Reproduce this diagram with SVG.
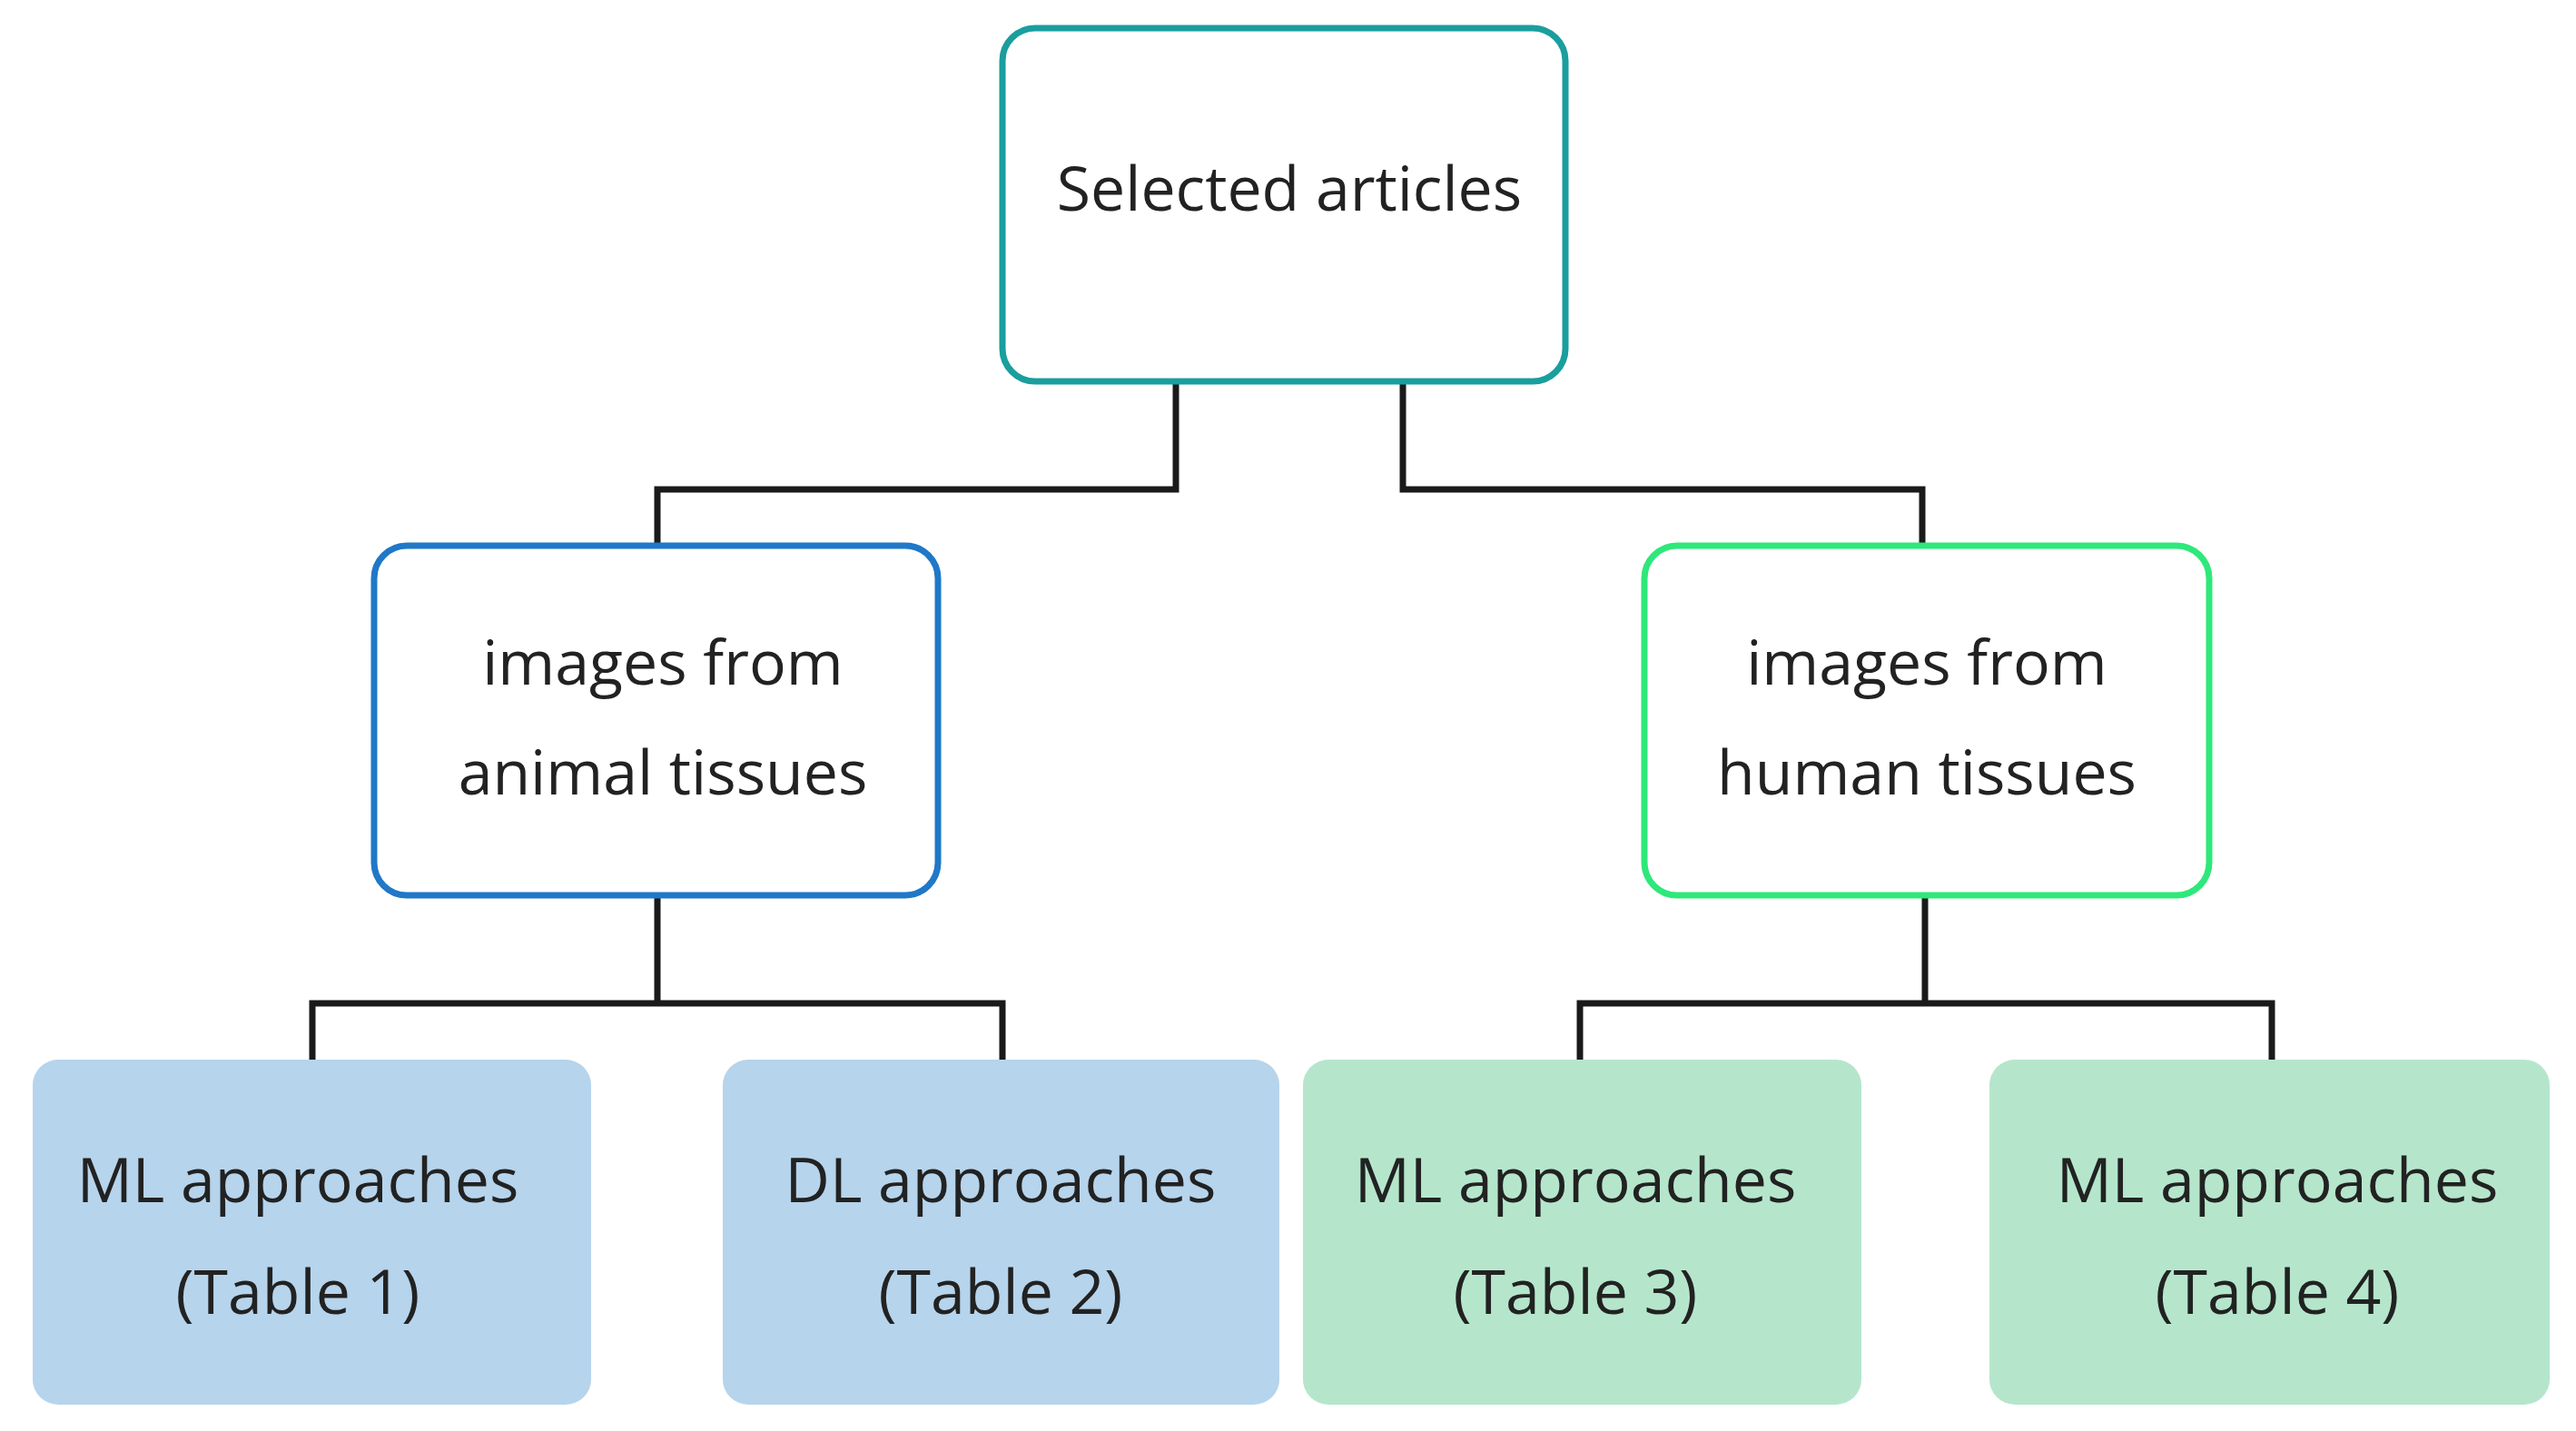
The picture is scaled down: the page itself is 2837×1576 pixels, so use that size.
<svg xmlns="http://www.w3.org/2000/svg" width="2837" height="1576" viewBox="0 0 2837 1576">
<style>
text{font-family:"Open Sans","Noto Sans",sans-serif;font-size:68px;fill:#222;text-anchor:middle}
.c{fill:none;stroke:#1a1a1a;stroke-width:7}
.b{fill:#fff;stroke-width:7}
</style>
<rect width="2837" height="1576" fill="#fff"/>
<g id="connectors">
<polyline class="c" points="1295,420 1295,539 724,539 724,601"/>
<polyline class="c" points="1545,420 1545,539 2117,539 2117,601"/>
<polyline class="c" points="344,1167 344,1105 1104,1105 1104,1167"/>
<line class="c" x1="724" y1="986" x2="724" y2="1105"/>
<polyline class="c" points="1740,1167 1740,1105 2502,1105 2502,1167"/>
<line class="c" x1="2120" y1="986" x2="2120" y2="1105"/>
</g>
<g id="top"><rect class="b" x="1104" y="31" width="620" height="389" rx="36" stroke="#1a9e9e"/><text x="1420" y="232">Selected articles</text></g>
<g id="animal"><rect class="b" x="412" y="601" width="621" height="385" rx="36" stroke="#1f78c8"/><text x="730" y="754">images from</text><text x="730" y="875">animal tissues</text></g>
<g id="human"><rect class="b" x="1811" y="601" width="622" height="385" rx="36" stroke="#2ee87a"/><text x="2122" y="754">images from</text><text x="2122" y="875">human tissues</text></g>
<g id="t1"><rect x="36" y="1167" width="615" height="380" rx="28" fill="#b6d4ec"/><text x="328" y="1324">ML approaches</text><text x="328" y="1447">(Table 1)</text></g>
<g id="t2"><rect x="796" y="1167" width="613" height="380" rx="28" fill="#b6d4ec"/><text x="1102" y="1324">DL approaches</text><text x="1102" y="1447">(Table 2)</text></g>
<g id="t3"><rect x="1435" y="1167" width="615" height="380" rx="28" fill="#b5e6cc"/><text x="1735" y="1324">ML approaches</text><text x="1735" y="1447">(Table 3)</text></g>
<g id="t4"><rect x="2191" y="1167" width="617" height="380" rx="28" fill="#b5e6cc"/><text x="2508" y="1324">ML approaches</text><text x="2508" y="1447">(Table 4)</text></g>
</svg>
